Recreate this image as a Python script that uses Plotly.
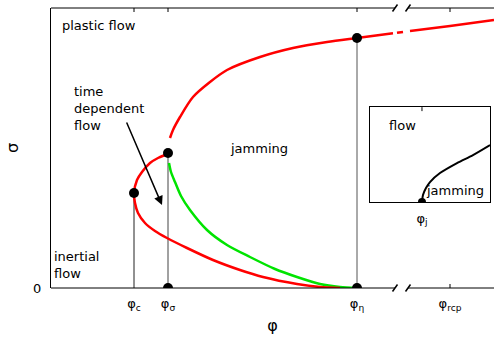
import plotly.graph_objects as go

# ---- data (phi in arbitrary units, sigma in arbitrary units) ----
red_lower_phi = [2.89, 2.69, 2.46, 2.12, 1.89, 1.62, 1.36, 1.16, 1.04, 0.94, 0.87, 0.84, 0.83, 0.86, 0.91, 0.99, 1.07, 1.14]
red_lower_sig = [0.00, 0.01, 0.04, 0.11, 0.18, 0.28, 0.40, 0.50, 0.57, 0.65, 0.75, 0.85, 0.95, 1.08, 1.16, 1.25, 1.30, 1.33]

red_upper_phi = [1.19, 1.22, 1.29, 1.42, 1.59, 1.76, 2.09, 2.42, 2.76, 3.06, 3.42]
red_upper_sig = [1.50, 1.58, 1.71, 1.91, 2.06, 2.18, 2.31, 2.40, 2.46, 2.50, 2.547]

red_break_phi = [3.46, 3.52]
red_break_sig = [2.552, 2.56]

red_tail_phi = [3.59, 3.99, 4.43]
red_tail_sig = [2.57, 2.62, 2.68]

green_phi = [1.18, 1.20, 1.24, 1.30, 1.39, 1.56, 1.76, 1.99, 2.24, 2.46, 2.69, 2.89, 3.06]
green_sig = [1.25, 1.16, 1.06, 0.92, 0.78, 0.58, 0.43, 0.31, 0.19, 0.11, 0.04, 0.01, 0.00]

dot_phi = [0.83, 1.17, 1.17, 3.06, 3.06]
dot_sig = [0.95, 1.35, 0.00, 2.50, 0.00]

phi_c, phi_sigma, phi_eta, phi_rcp = 0.83, 1.17, 3.06, 3.99
sig_c, sig_sigma, sig_eta = 0.95, 1.35, 2.50
tick_vals = [phi_c, phi_sigma, phi_eta, phi_rcp]
tick_text = ["φ<sub>c</sub>", "φ<sub>σ</sub>", "φ<sub>η</sub>", "φ<sub>rcp</sub>"]
break_left, break_right = 3.44, 3.57

inset_phi = [0.52, 0.53, 0.56, 0.60, 0.70, 0.87, 1.03, 1.20]
inset_sig = [0.00, 0.07, 0.14, 0.20, 0.29, 0.39, 0.47, 0.57]
phi_j = 0.52

FONT = "DejaVu Sans"
RED = "#ff0000"
GREEN = "#00e400"

fig = go.Figure()

# vertical guide lines
for xv, yv, col in [(phi_c, sig_c, "#222222"), (phi_sigma, sig_sigma, "#444444"), (phi_eta, sig_eta, "#555555")]:
    fig.add_trace(go.Scatter(x=[xv, xv], y=[0, yv], mode="lines",
                             line=dict(color=col, width=1), showlegend=False, hoverinfo="skip"))

fig.add_trace(go.Scatter(x=green_phi, y=green_sig, mode="lines",
                         line=dict(color=GREEN, width=2.5, shape="spline", smoothing=0.8), showlegend=False))
fig.add_trace(go.Scatter(x=red_lower_phi, y=red_lower_sig, mode="lines",
                         line=dict(color=RED, width=2.5, shape="spline", smoothing=0.8), showlegend=False))
fig.add_trace(go.Scatter(x=red_upper_phi, y=red_upper_sig, mode="lines",
                         line=dict(color=RED, width=2.5, shape="spline", smoothing=0.8), showlegend=False))
fig.add_trace(go.Scatter(x=red_break_phi, y=red_break_sig, mode="lines",
                         line=dict(color=RED, width=2.5), showlegend=False))
fig.add_trace(go.Scatter(x=red_tail_phi, y=red_tail_sig, mode="lines",
                         line=dict(color=RED, width=2.5, shape="spline", smoothing=0.8), showlegend=False))
fig.add_trace(go.Scatter(x=dot_phi, y=dot_sig, mode="markers",
                         marker=dict(color="black", size=10), showlegend=False))

# inset
fig.add_trace(go.Scatter(x=inset_phi, y=inset_sig, mode="lines", xaxis="x2", yaxis="y2",
                         line=dict(color="black", width=2, shape="spline", smoothing=0.8), showlegend=False))
fig.add_trace(go.Scatter(x=[phi_j], y=[0], mode="markers", xaxis="x2", yaxis="y2",
                         marker=dict(color="black", size=8), showlegend=False))

shapes = []
# broken top & bottom axis lines
for yp in (0, 1):
    shapes.append(dict(type="line", xref="x", yref="paper", x0=0, x1=break_left, y0=yp, y1=yp,
                       line=dict(color="black", width=1)))
    shapes.append(dict(type="line", xref="x", yref="paper", x0=break_right, x1=4.43, y0=yp, y1=yp,
                       line=dict(color="black", width=1)))
    for xb in (break_left, break_right):
        shapes.append(dict(type="line", xref="x", yref="paper", xsizemode="pixel", ysizemode="pixel",
                           xanchor=xb, yanchor=yp, x0=-2.5, x1=2.5, y0=-3.5, y1=3.5,
                           line=dict(color="black", width=1.5)))
# top ticks
for xv in tick_vals:
    shapes.append(dict(type="line", xref="x", yref="paper", ysizemode="pixel", yanchor=1,
                       x0=xv, x1=xv, y0=0, y1=-4, line=dict(color="black", width=1)))
# bottom tick at phi_rcp
shapes.append(dict(type="line", xref="x", yref="paper", ysizemode="pixel", yanchor=0,
                   x0=phi_rcp, x1=phi_rcp, y0=0, y1=4, line=dict(color="black", width=1)))
# inset top tick
shapes.append(dict(type="line", xref="x2", yref="paper", ysizemode="pixel", yanchor=0.646,
                   x0=phi_j, x1=phi_j, y0=0, y1=-4, line=dict(color="black", width=1)))

annotations = [
    dict(x=0.09, y=2.63, xref="x", yref="y", text="plastic flow", showarrow=False, xanchor="left", yanchor="middle"),
    dict(x=0.21, y=1.80, xref="x", yref="y", text="time<br>dependent<br>flow", showarrow=False,
         xanchor="left", yanchor="middle", align="left"),
    dict(x=1.77, y=1.40, xref="x", yref="y", text="jamming", showarrow=False, xanchor="left", yanchor="middle"),
    dict(x=0.01, y=0.23, xref="x", yref="y", text="inertial<br>flow", showarrow=False,
         xanchor="left", yanchor="middle", align="left"),
    dict(x=1.11, y=0.83, ax=0.75, ay=1.67, xref="x", yref="y", axref="x", ayref="y", text="",
         showarrow=True, arrowhead=2, arrowsize=1.2, arrowwidth=1.5, arrowcolor="black"),
    dict(x=0.17, y=0.77, xref="x2", yref="y2", text="flow", showarrow=False, xanchor="left", yanchor="middle"),
    dict(x=0.54, y=0.12, xref="x2", yref="y2", text="jamming", showarrow=False, xanchor="left", yanchor="middle"),
]

fig.update_layout(
    width=494, height=338,
    margin=dict(l=51, r=0, t=8, b=50),
    paper_bgcolor="white", plot_bgcolor="white",
    font=dict(family=FONT, size=13, color="black"),
    showlegend=False,
    shapes=shapes, annotations=annotations,
    xaxis=dict(range=[0, 4.43], showgrid=False, zeroline=False, showline=False, automargin=False,
               tickvals=tick_vals, ticktext=tick_text, ticks="", ticklabelstandoff=6,
               title=dict(text="φ", standoff=8), fixedrange=True),
    yaxis=dict(range=[0, 2.80], showgrid=False, zeroline=False, showline=True, linecolor="black", linewidth=1,
               automargin=False, tickvals=[0], ticktext=["0"], ticks="", ticklabelstandoff=6,
               title=dict(text="σ", standoff=10), fixedrange=True),
    xaxis2=dict(domain=[0.720, 0.991], anchor="y2", range=[0, 1.2], showgrid=False, zeroline=False,
                automargin=False, showline=True, mirror=True, linecolor="black", linewidth=1,
                tickvals=[phi_j], ticktext=["φ<sub>j</sub>"], ticks="", ticklabelstandoff=4, fixedrange=True),
    yaxis2=dict(domain=[0.307, 0.646], anchor="x2", range=[0, 0.95], showgrid=False, zeroline=False,
                automargin=False, showline=True, mirror=True, linecolor="black", linewidth=1,
                showticklabels=False, ticks="", fixedrange=True),
)

fig.write_html("out.html", config={"displayModeBar": False},
               post_script="document.body.style.margin='0';document.body.style.padding='0';")
